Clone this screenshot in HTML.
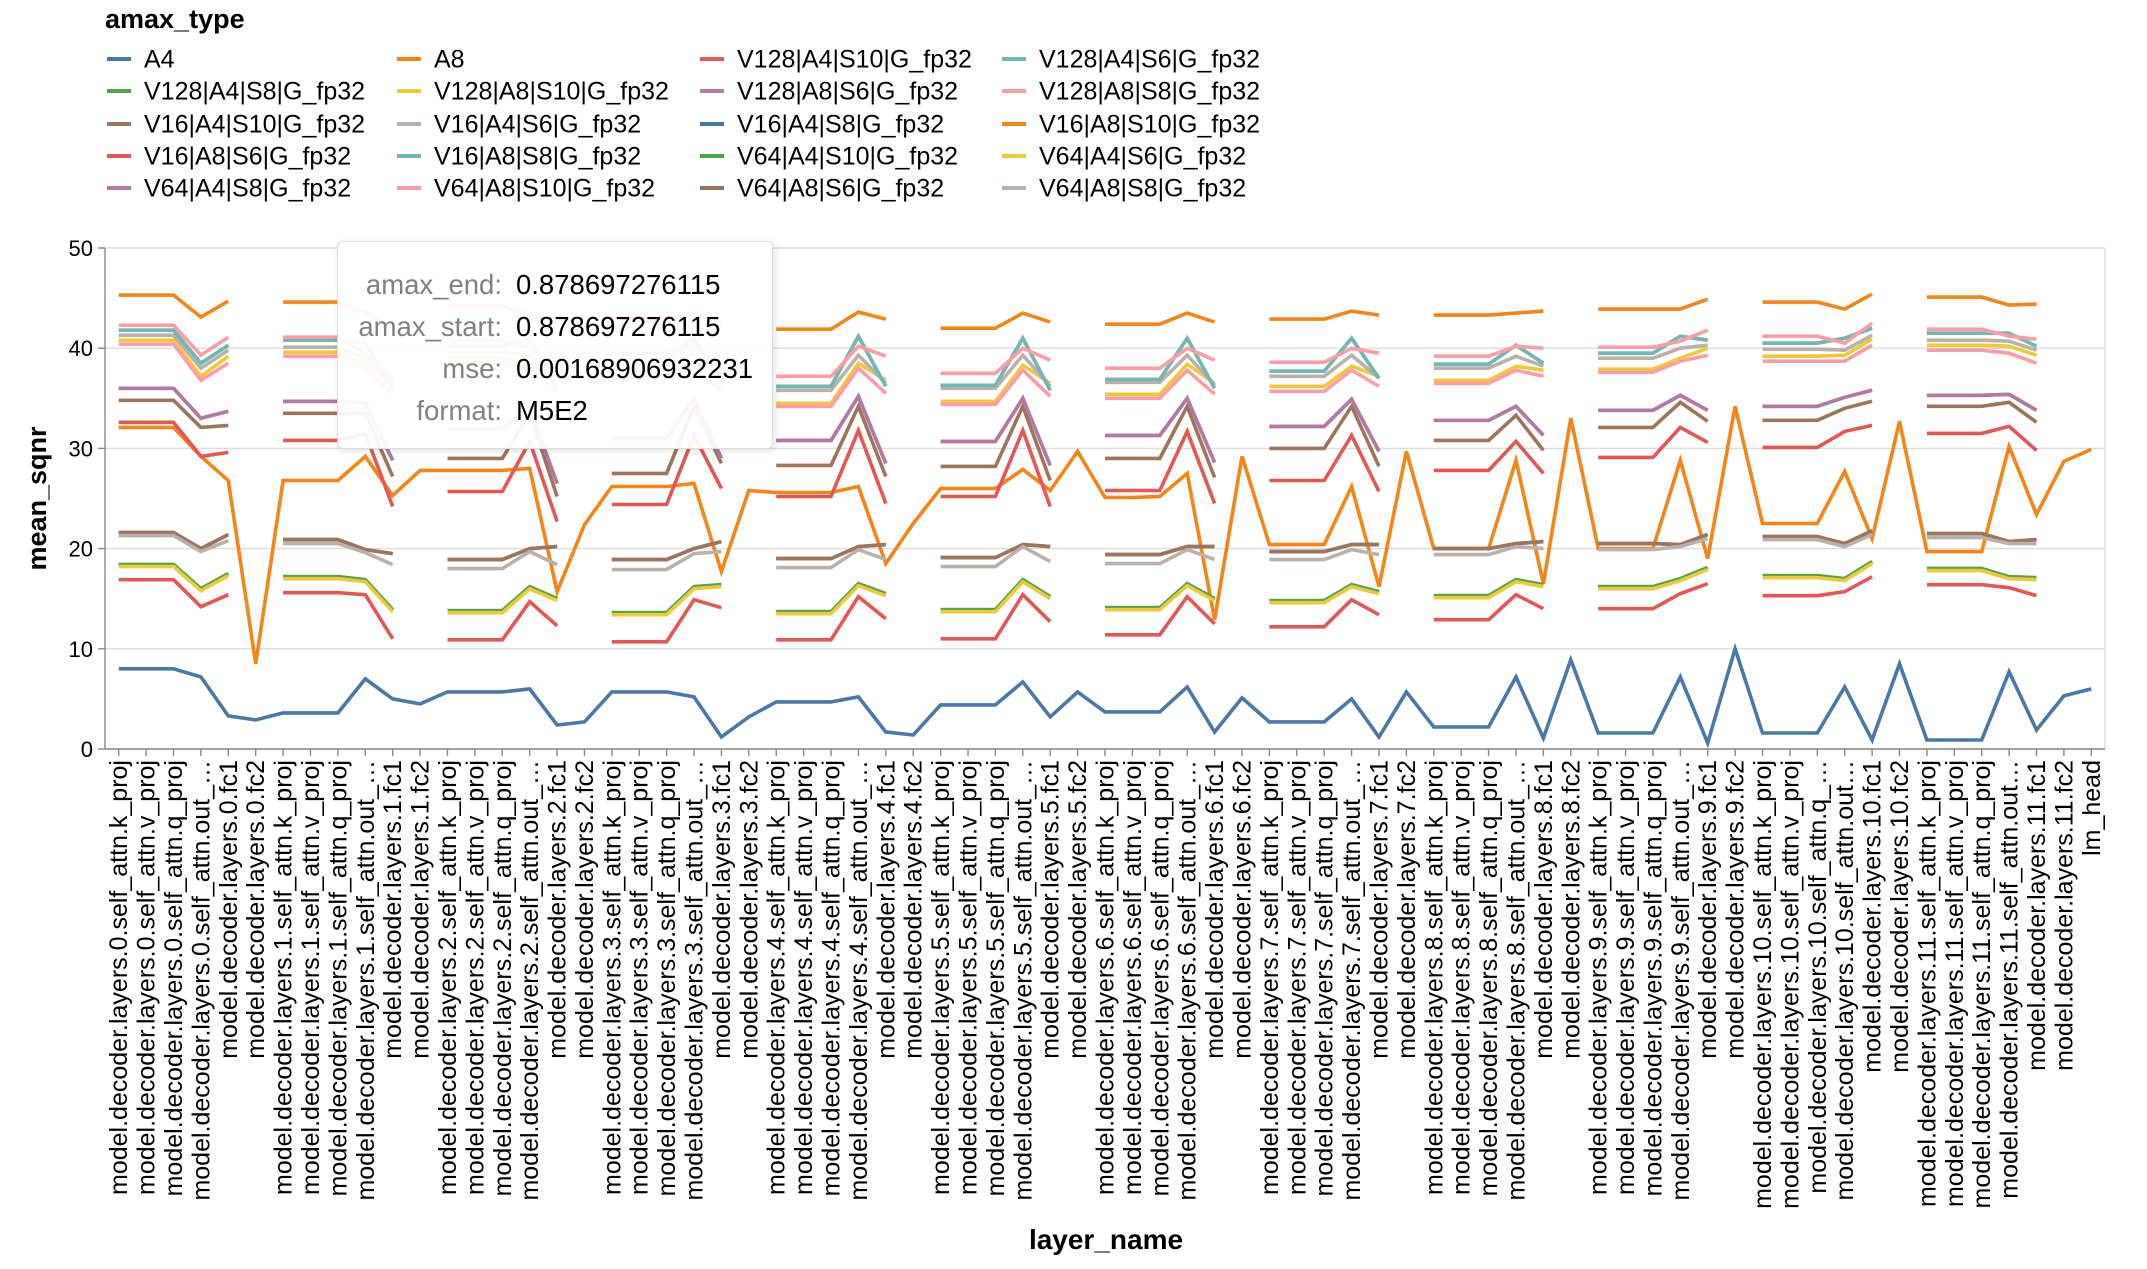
<!DOCTYPE html>
<html><head><meta charset="utf-8"><style>
html,body{margin:0;padding:0;background:#fff;width:2147px;height:1269px;overflow:hidden;font-family:"Liberation Sans",sans-serif}
#tooltip{position:absolute;left:337px;top:241px;width:436px;height:208px;box-sizing:border-box;background:rgba(255,255,255,0.93);border:1px solid #ddd;border-radius:6px;box-shadow:2px 2px 8px rgba(0,0,0,0.12);font-size:27.5px}
#tooltip .row{position:absolute;left:0;width:100%;height:32px}
#tooltip .k{position:absolute;right:270px;color:#808080;white-space:nowrap}
#tooltip .v{position:absolute;left:178px;color:#000;white-space:nowrap}
</style></head><body>
<svg id="chart" width="2147" height="1269" xmlns="http://www.w3.org/2000/svg" style="position:absolute;left:0;top:0"></svg>
<div id="tooltip">
<div class="row" style="top:27px"><span class="k">amax_end:</span><span class="v">0.878697276115</span></div>
<div class="row" style="top:69px"><span class="k">amax_start:</span><span class="v">0.878697276115</span></div>
<div class="row" style="top:111px"><span class="k">mse:</span><span class="v">0.00168906932231</span></div>
<div class="row" style="top:153px"><span class="k">format:</span><span class="v">M5E2</span></div>
</div>
<script>
const layerParts = ["k_proj","v_proj","q_proj","out_proj","fc1","fc2"];
const yTicks = [0,10,20,30,40,50];
const a4 = [8.0,8.0,8.0,7.2,3.3,2.9, 3.6,3.6,3.6,7.0,5.0,4.5, 5.7,5.7,5.7,6.0,2.4,2.7, 5.7,5.7,5.7,5.2,1.2,3.2, 4.7,4.7,4.7,5.2,1.7,1.4, 4.4,4.4,4.4,6.7,3.2,5.7, 3.7,3.7,3.7,6.2,1.7,5.1, 2.7,2.7,2.7,5.0,1.2,5.7, 2.2,2.2,2.2,7.2,1.1,8.9, 1.6,1.6,1.6,7.2,0.6,10.0, 1.6,1.6,1.6,6.2,0.9,8.5, 0.9,0.9,0.9,7.7,1.9,5.3, 6.0];
const a8 = [32.1,32.1,32.1,29.2,26.8,8.5, 26.8,26.8,26.8,29.2,25.3,27.8, 27.8,27.8,27.8,28.0,15.7,22.4, 26.2,26.2,26.2,26.5,17.7,25.8, 25.6,25.6,25.6,26.2,18.5,22.5, 26.0,26.0,26.0,27.9,25.8,29.7, 25.1,25.1,25.2,27.5,12.9,29.2, 20.4,20.4,20.4,26.2,16.2,29.7, 20.0,20.0,20.0,28.8,16.5,33.0, 20.0,20.0,20.0,28.8,19.0,34.2, 22.5,22.5,22.5,27.7,21.0,32.7, 19.7,19.7,19.7,30.2,23.4,28.7, 29.9];
const orangeTop = [45.3,45.3,45.3,43.1,44.7, 44.6,44.6,44.6,43.6,42.0, 44.2,44.2,44.2,43.4,42.5, 43.0,43.0,43.0,43.5,42.6, 41.9,41.9,41.9,43.6,42.9, 42.0,42.0,42.0,43.5,42.6, 42.4,42.4,42.4,43.5,42.6, 42.9,42.9,42.9,43.7,43.3, 43.3,43.3,43.3,43.5,43.7, 43.9,43.9,43.9,43.9,44.9, 44.6,44.6,44.6,43.9,45.4, 45.1,45.1,45.1,44.3,44.4];
const pinkTop = [42.3,42.3,42.3,39.3,41.1, 41.1,41.1,41.1,39.5,37.0, 40.8,40.8,40.8,40.0,37.5, 39.5,39.5,39.5,40.2,38.5, 37.2,37.2,37.2,40.2,39.2, 37.5,37.5,37.5,40.0,38.8, 38.0,38.0,38.0,40.0,38.8, 38.6,38.6,38.6,40.0,39.5, 39.2,39.2,39.2,40.2,40.0, 40.1,40.1,40.1,40.7,41.8, 41.2,41.2,41.2,40.5,42.5, 41.9,41.9,41.9,41.2,40.9];
const tealTop = [41.8,41.8,41.8,38.5,40.3, 40.8,40.8,40.8,40.5,36.0, 40.2,40.2,40.2,41.0,36.0, 38.8,38.8,38.8,41.0,36.5, 36.2,36.2,36.2,41.2,36.2, 36.3,36.3,36.3,41.0,35.8, 36.9,36.9,36.9,41.0,36.0, 37.7,37.7,37.7,41.0,37.0, 38.4,38.4,38.4,40.3,38.5, 39.5,39.5,39.5,41.2,40.8, 40.5,40.5,40.5,41.0,42.0, 41.5,41.5,41.5,41.5,40.2];
const grayTop = [41.3,41.3,41.3,38.0,39.8, 40.1,40.1,40.1,39.0,36.8, 39.6,39.6,39.6,39.3,37.0, 38.3,38.3,38.3,39.4,37.2, 35.8,35.8,35.8,39.3,36.5, 36.0,36.0,36.0,39.3,36.2, 36.6,36.6,36.6,39.3,36.3, 37.2,37.2,37.2,39.3,37.0, 38.0,38.0,38.0,39.2,38.2, 39.0,39.0,39.0,40.0,40.3, 39.9,39.9,39.9,39.8,41.3, 40.8,40.8,40.8,40.7,39.8];
const yellowTop = [40.8,40.8,40.8,37.2,39.2, 39.6,39.6,39.6,38.5,36.5, 39.0,39.0,39.0,38.6,36.6, 37.6,37.6,37.6,38.6,36.8, 34.5,34.5,34.5,38.5,36.8, 34.7,34.7,34.7,38.3,36.5, 35.4,35.4,35.4,38.4,36.5, 36.2,36.2,36.2,38.2,37.2, 36.8,36.8,36.8,38.2,37.8, 37.9,37.9,37.9,39.0,40.0, 39.2,39.2,39.2,39.3,40.9, 40.3,40.3,40.3,40.2,39.3];
const pinkLow = [40.4,40.4,40.4,36.8,38.5, 39.2,39.2,39.2,38.0,35.5, 38.6,38.6,38.6,38.0,35.6, 37.2,37.2,37.2,38.0,35.8, 34.2,34.2,34.2,38.0,35.5, 34.4,34.4,34.4,37.8,35.2, 35.0,35.0,35.0,37.8,35.4, 35.7,35.7,35.7,37.8,36.2, 36.5,36.5,36.5,37.8,37.2, 37.6,37.6,37.6,38.7,39.3, 38.7,38.7,38.7,38.7,40.3, 39.8,39.8,39.8,39.5,38.5];
const purpleMid = [36.0,36.0,36.0,33.0,33.7, 34.7,34.7,34.7,34.5,28.8, 32.0,32.0,32.0,34.0,26.5, 31.0,31.0,31.0,35.0,29.0, 30.8,30.8,30.8,35.2,28.5, 30.7,30.7,30.7,35.0,28.3, 31.3,31.3,31.3,35.0,28.6, 32.2,32.2,32.2,34.9,29.7, 32.8,32.8,32.8,34.2,31.3, 33.8,33.8,33.8,35.3,33.8, 34.2,34.2,34.2,35.1,35.8, 35.3,35.3,35.3,35.4,33.8];
const brownMid = [34.8,34.8,34.8,32.1,32.3, 33.5,33.5,33.5,33.5,27.2, 29.0,29.0,29.0,33.5,25.2, 27.5,27.5,27.5,34.2,28.5, 28.3,28.3,28.3,34.2,27.2, 28.2,28.2,28.2,34.2,26.8, 29.0,29.0,29.0,34.2,27.1, 30.0,30.0,30.0,34.2,28.2, 30.8,30.8,30.8,33.3,29.8, 32.1,32.1,32.1,34.6,32.7, 32.8,32.8,32.8,34.0,34.7, 34.2,34.2,34.2,34.6,32.6];
const redMid = [32.6,32.6,32.6,29.2,29.6, 30.8,30.8,30.8,31.5,24.2, 25.7,25.7,25.7,30.7,22.7, 24.4,24.4,24.4,31.3,26.0, 25.2,25.2,25.2,31.8,24.5, 25.2,25.2,25.2,31.8,24.2, 25.8,25.8,25.8,31.7,24.5, 26.8,26.8,26.8,31.3,25.7, 27.8,27.8,27.8,30.7,27.5, 29.1,29.1,29.1,32.1,30.6, 30.1,30.1,30.1,31.7,32.3, 31.5,31.5,31.5,32.2,29.8];
const brownLow = [21.6,21.6,21.6,20.0,21.4, 20.9,20.9,20.9,19.9,19.5, 18.9,18.9,18.9,20.0,20.2, 18.9,18.9,18.9,20.0,20.7, 19.0,19.0,19.0,20.2,20.4, 19.1,19.1,19.1,20.4,20.2, 19.4,19.4,19.4,20.2,20.2, 19.7,19.7,19.7,20.4,20.4, 20.0,20.0,20.0,20.5,20.7, 20.5,20.5,20.5,20.4,21.4, 21.2,21.2,21.2,20.5,21.8, 21.5,21.5,21.5,20.7,20.9];
const grayLow = [21.3,21.3,21.3,19.7,20.8, 20.5,20.5,20.5,19.6,18.4, 18.0,18.0,18.0,19.7,18.4, 17.9,17.9,17.9,19.5,19.7, 18.1,18.1,18.1,19.9,18.9, 18.2,18.2,18.2,20.2,18.7, 18.5,18.5,18.5,19.9,18.9, 18.9,18.9,18.9,19.9,19.4, 19.4,19.4,19.4,20.2,20.0, 19.9,19.9,19.9,20.2,21.0, 20.9,20.9,20.9,20.2,21.4, 21.1,21.1,21.1,20.5,20.5];
const greenLow = [18.4,18.4,18.4,16.0,17.5, 17.2,17.2,17.2,16.9,13.9, 13.8,13.8,13.8,16.2,15.0, 13.6,13.6,13.6,16.2,16.4, 13.7,13.7,13.7,16.5,15.5, 13.9,13.9,13.9,16.9,15.2, 14.1,14.1,14.1,16.5,15.0, 14.8,14.8,14.8,16.4,15.7, 15.3,15.3,15.3,16.9,16.4, 16.2,16.2,16.2,17.0,18.1, 17.3,17.3,17.3,17.0,18.7, 18.0,18.0,18.0,17.2,17.1];
const yellowLow = [18.2,18.2,18.2,15.8,17.3, 17.0,17.0,17.0,16.7,13.7, 13.6,13.6,13.6,16.0,14.8, 13.4,13.4,13.4,16.0,16.2, 13.5,13.5,13.5,16.3,15.3, 13.7,13.7,13.7,16.7,15.0, 13.9,13.9,13.9,16.3,14.8, 14.6,14.6,14.6,16.2,15.5, 15.1,15.1,15.1,16.7,16.2, 16.0,16.0,16.0,16.8,17.9, 17.1,17.1,17.1,16.8,18.5, 17.8,17.8,17.8,17.0,16.9];
const redLow = [16.9,16.9,16.9,14.2,15.4, 15.6,15.6,15.6,15.4,11.0, 10.9,10.9,10.9,14.7,12.3, 10.7,10.7,10.7,14.9,14.1, 10.9,10.9,10.9,15.2,13.0, 11.0,11.0,11.0,15.4,12.7, 11.4,11.4,11.4,15.2,12.5, 12.2,12.2,12.2,14.9,13.4, 12.9,12.9,12.9,15.4,14.0, 14.0,14.0,14.0,15.5,16.5, 15.3,15.3,15.3,15.7,17.2, 16.4,16.4,16.4,16.1,15.3];

const seriesNames = ["A4","A8","V128|A4|S10|G_fp32","V128|A4|S6|G_fp32","V128|A4|S8|G_fp32","V128|A8|S10|G_fp32","V128|A8|S6|G_fp32","V128|A8|S8|G_fp32","V16|A4|S10|G_fp32","V16|A4|S6|G_fp32","V16|A4|S8|G_fp32","V16|A8|S10|G_fp32","V16|A8|S6|G_fp32","V16|A8|S8|G_fp32","V64|A4|S10|G_fp32","V64|A4|S6|G_fp32","V64|A4|S8|G_fp32","V64|A8|S10|G_fp32","V64|A8|S6|G_fp32","V64|A8|S8|G_fp32"];
const seriesData = [a4,a8,redLow,tealTop,greenLow,yellowTop,purpleMid,pinkLow,brownMid,grayTop,brownLow,orangeTop,redMid,tealTop,greenLow,yellowLow,purpleMid,pinkTop,brownLow,grayLow];
const palette = ["#4c78a8","#f58518","#e45756","#72b7b2","#54a24b","#eeca3b","#b279a2","#ff9da6","#9d755d","#bab0ac"];

const NS="http://www.w3.org/2000/svg";
const svg=document.getElementById('chart');
function mk(tag,attrs,parent){const e=document.createElementNS(NS,tag);for(const k in attrs)e.setAttribute(k,attrs[k]);(parent||svg).appendChild(e);return e;}

const categories=[];
for(let l=0;l<12;l++)for(const p of layerParts){
  categories.push(p.startsWith("fc")?`model.decoder.layers.${l}.${p}`:`model.decoder.layers.${l}.self_attn.${p}`);
}
categories.push("lm_head");

const X0=105,X1=2105,Y0=749,Y1=248,YMAX=50;
const step=(X1-X0)/categories.length;
function xs(i){return X0+step*(i+0.5);}
function ys(v){return Y0-(v/YMAX)*(Y0-Y1);}
function labelText(s,i){
  const l=Math.floor(i/6), p=i%6;
  if(p===3) return s.slice(0,37)+"…";
  if(l===10&&p===2) return s.slice(0,36)+"…";
  return s;
}

const grid=mk('g',{});


for(const t of yTicks){mk('line',{x1:X0,x2:X1,y1:ys(t),y2:ys(t),stroke:'#ddd','stroke-width':1.4},grid);}
mk('line',{x1:X1,x2:X1,y1:Y1,y2:Y0,stroke:'#ddd','stroke-width':1.4},grid);

const yAxis=mk('g',{});


mk('line',{x1:X0,x2:X0,y1:Y1,y2:Y0,stroke:'#888','stroke-width':1.4},yAxis);
for(const t of yTicks){
  mk('line',{x1:X0-7,x2:X0,y1:ys(t),y2:ys(t),stroke:'#888','stroke-width':1.4},yAxis);
  const tx=mk('text',{x:X0-12,y:ys(t)+8,'text-anchor':'end','font-size':22,fill:'#000'},yAxis);
  tx.textContent=t;
  
  
}
const yt=mk('text',{transform:`translate(46,${(Y0+Y1)/2}) rotate(-90)`,'text-anchor':'middle','font-size':27,'font-weight':'bold'});
yt.textContent='mean_sqnr';



const xAxis=mk('g',{});


mk('line',{x1:X0,x2:X1,y1:Y0,y2:Y0,stroke:'#888','stroke-width':1.4},xAxis);
categories.forEach((c,i)=>{
  const x=xs(i);
  mk('line',{x1:x,x2:x,y1:Y0,y2:Y0+7,stroke:'#888','stroke-width':1.4},xAxis);
  const tx=mk('text',{transform:`translate(${x+8.5},${Y0+11}) rotate(-90)`,'text-anchor':'end','font-size':25,fill:'#000'},xAxis);
  tx.textContent=labelText(c,i);
  
  
});
const xt=mk('text',{x:1106,y:1249,'text-anchor':'middle','font-size':28,'font-weight':'bold'});
xt.textContent='layer_name';



seriesData.forEach((arr,si)=>{
  const g=mk('g',{});
  
  
  const col=palette[si%10];
  let segs=[];
  if(arr.length===categories.length){
    segs.push(arr.map((v,i)=>[xs(i),ys(v)]));
  } else {
    for(let l=0;l<12;l++){
      const seg=[];
      for(let j=0;j<5;j++){const v=arr[l*5+j]; if(v!=null) seg.push([xs(l*6+j),ys(v)]);}
      segs.push(seg);
    }
  }
  for(const seg of segs){
    const p=mk('path',{d:'M'+seg.map(q=>q[0].toFixed(1)+','+q[1].toFixed(1)).join('L'),fill:'none',stroke:col,'stroke-width':3.6,'stroke-linejoin':'miter'},g);
    
    
  }
});

const lg=mk('g',{});


const lt=mk('text',{x:105,y:28,'font-size':27,'font-weight':'bold'},lg);
lt.textContent='amax_type';


const colX=[107,397,700,1002], rowY=[59,91,124,156,188];
seriesNames.forEach((n,i)=>{
  const cx=colX[i%4], cy=rowY[Math.floor(i/4)];
  const e=mk('g',{},lg);
  
  
  mk('line',{x1:cx,x2:cx+24,y1:cy,y2:cy,stroke:palette[i%10],'stroke-width':4},e);
  const t=mk('text',{x:cx+37,y:cy+8.5,'font-size':25},e);
  t.textContent=n;
});
</script>
</body></html>
